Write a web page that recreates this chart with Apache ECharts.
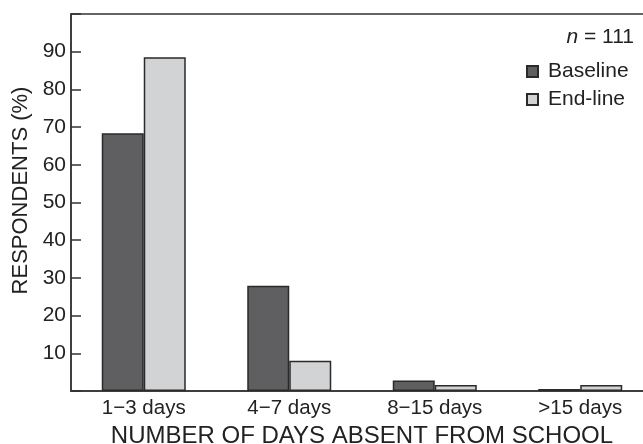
<!DOCTYPE html>
<html><head><meta charset="utf-8">
<script src="https://cdn.jsdelivr.net/npm/echarts@6/dist/echarts.min.js"></script>
<style>html,body{margin:0;padding:0;background:#fff}#c{width:643px;height:444px}</style>
</head><body><div id="c"></div>
<script>
const categories = ['1\u22123 days', '4\u22127 days', '8\u221215 days', '>15 days'];
const baseline = [68.4, 27.9, 2.8, 0.5];
const endline = [88.5, 8.0, 1.6, 1.6];
const seriesNames = ['Baseline', 'End-line'];
const yTicks = [10, 20, 30, 40, 50, 60, 70, 80, 90];

const FONT = 'Liberation Sans, Arial, sans-serif';
const chart = echarts.init(document.getElementById('c'));
chart.setOption({
  animation: false,
  textStyle: { fontFamily: FONT, color: '#222' },
  grid: { left: 71, right: -10, top: 14, bottom: 53, outerBoundsMode: 'none', containLabel: false,
    show: true, borderColor: '#333', borderWidth: 1.5, backgroundColor: 'transparent' },
  title: {
    text: '{i|n} = 111', right: 4, top: 22,
    textStyle: { fontFamily: FONT, fontSize: 21, fontWeight: 'normal', color: '#222',
      rich: { i: { fontStyle: 'italic', fontFamily: FONT, fontSize: 21, color: '#222' } } }
  },
  legend: {
    orient: 'vertical', left: 526, top: 61, padding: 0, itemGap: 7,
    itemWidth: 11, itemHeight: 11, icon: 'rect',
    textStyle: { fontFamily: FONT, fontSize: 21, color: '#222', lineHeight: 21, padding: [0, 0, 0, 5] },
    data: seriesNames
  },
  xAxis: {
    type: 'category', data: categories,
    name: 'NUMBER OF DAYS ABSENT FROM SCHOOL', nameLocation: 'middle', nameGap: 31,
    nameTextStyle: { fontFamily: FONT, fontSize: 24, color: '#222' },
    axisLine: { lineStyle: { color: '#333', width: 1.5 } },
    axisTick: { inside: true, length: 10, lineStyle: { color: '#333', width: 1.5 } },
    axisLabel: { fontFamily: FONT, fontSize: 20.5, color: '#222', margin: 7 }
  },
  yAxis: {
    type: 'value', min: 0, max: 100, interval: 10,
    name: 'RESPONDENTS (%)', nameLocation: 'middle', nameGap: 31,
    nameTextStyle: { fontFamily: FONT, fontSize: 22, color: '#222', padding: [0, 0, 0, 24] },
    splitLine: { show: false },
    axisLine: { show: true, lineStyle: { color: '#333', width: 1.5 } },
    axisTick: { show: true, inside: true, length: 10, lineStyle: { color: '#333', width: 1.5 } },
    axisLabel: { fontFamily: FONT, fontSize: 21, color: '#222', margin: 5,
      formatter: v => (yTicks.indexOf(v) >= 0 ? String(v) : '') }
  },
  series: [
    { name: seriesNames[0], type: 'bar', data: baseline, barWidth: 42, barGap: '0%',
      itemStyle: { color: '#5f5f61', borderColor: '#2a2a2a', borderWidth: 1.5 } },
    { name: seriesNames[1], type: 'bar', data: endline, barWidth: 42, barGap: '0%',
      itemStyle: { color: '#d2d3d5', borderColor: '#2a2a2a', borderWidth: 1.5 } }
  ]
});
</script></body></html>
